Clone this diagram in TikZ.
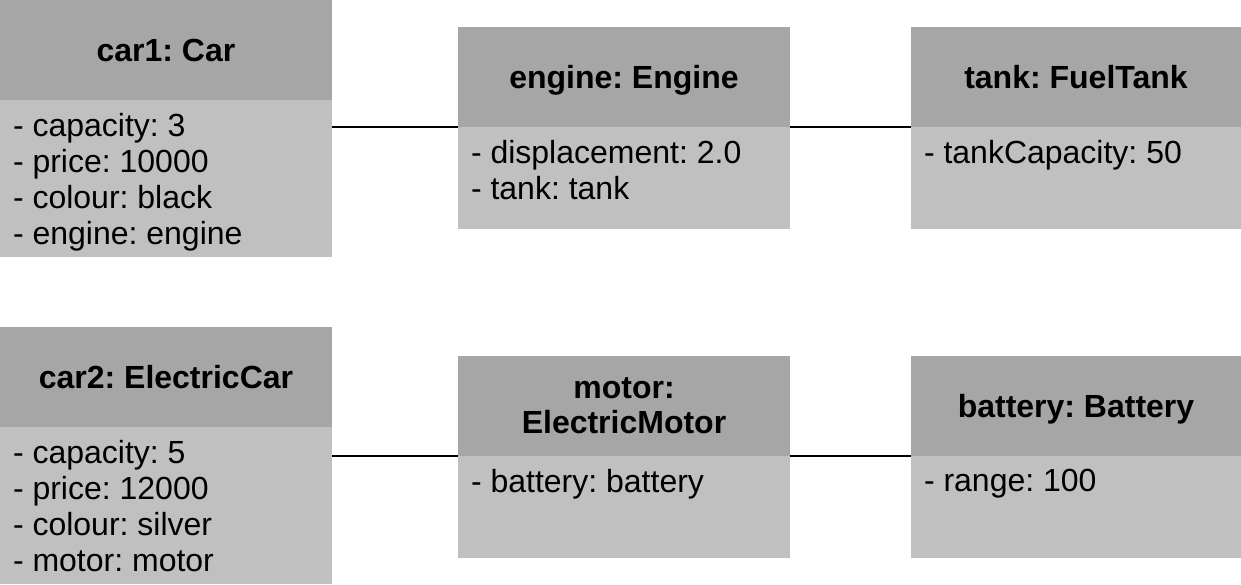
\documentclass[tikz,border=0pt]{standalone}
\usepackage{fontspec}
\setmainfont{Liberation Sans}
\frenchspacing
\usetikzlibrary{positioning}
\definecolor{headgray}{RGB}{166,166,166}
\definecolor{bodygray}{RGB}{192,192,192}
\tikzset{
	objhead/.style={fill=headgray, minimum width=#1, minimum height=100pt, inner sep=0pt, outer sep=0pt, text depth=0pt, font=\fontsize{32}{35}\selectfont\bfseries, align=center},
	objhead/.default=332pt,
	objbody/.style={fill=bodygray, inner xsep=13pt, inner ysep=0pt, outer sep=0pt, font=\fontsize{32}{36}\selectfont},
	link/.style={line width=1.5pt}
}
\newcommand{\attrs}[3]{\parbox[c][#2][t]{#1}{\vspace{13pt}#3}}

\begin{document}
\begin{tikzpicture}[x=1pt,y=1pt]
	\useasboundingbox (0,0) rectangle (1241,585);
	% top row
	\node[objhead] (car1) at (166,535) {car1: Car};
	\node[objbody, below=0pt of car1] (car1body) {\attrs{306pt}{157pt}{- capacity: 3\\- price: 10000\\- colour: black\\- engine: engine}};
	\node[objhead] (engine) at (624,508) {engine: Engine};
	\node[objbody, below=0pt of engine] (enginebody) {\attrs{306pt}{102pt}{- displacement: 2.0\\- tank: tank}};
	\node[objhead=330pt] (tank) at (1076,508) {tank: FuelTank};
	\node[objbody, below=0pt of tank] (tankbody) {\attrs{304pt}{102pt}{- tankCapacity: 50}};
	% bottom row
	\node[objhead] (car2) at (166,208) {car2: ElectricCar};
	\node[objbody, below=0pt of car2] (car2body) {\attrs{306pt}{157pt}{- capacity: 5\\- price: 12000\\- colour: silver\\- motor: motor}};
	\node[objhead] (motor) at (624,179) {motor:\\ElectricMotor};
	\node[objbody, below=0pt of motor] (motorbody) {\attrs{306pt}{102pt}{- battery: battery}};
	\node[objhead=330pt] (battery) at (1076,179) {battery: Battery};
	\node[objbody, below=0pt of battery] (batterybody) {\attrs{304pt}{102pt}{- range: 100}};
	% links
	\draw[link] (car1body.east |- engine.south west) -- (engine.south west);
	\draw[link] (enginebody.north east) -- (tankbody.north west);
	\draw[link] (car2body.east |- motor.south west) -- (motor.south west);
	\draw[link] (motorbody.north east) -- (batterybody.north west);
\end{tikzpicture}
\end{document}
